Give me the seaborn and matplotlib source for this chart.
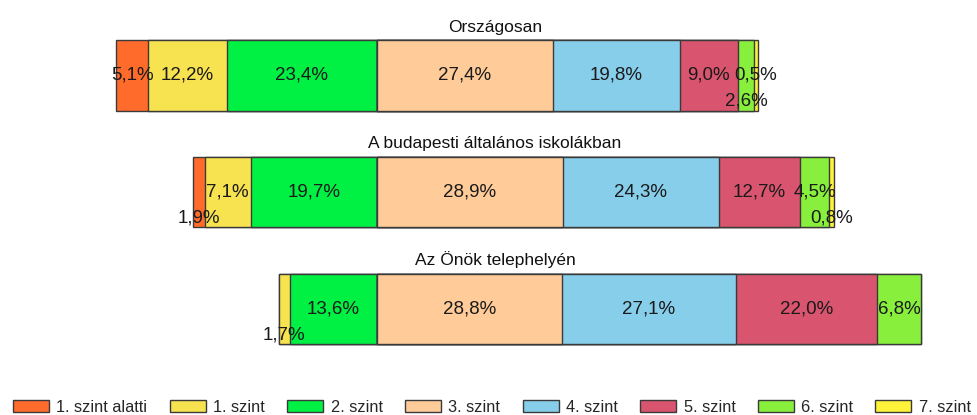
import matplotlib
matplotlib.use("Agg")
import matplotlib.pyplot as plt
import seaborn as sns
import pandas as pd

# data
regions = ["Országosan", "A budapesti általános iskolákban", "Az Önök telephelyén"]
levels = ["1. szint alatti", "1. szint", "2. szint", "3. szint",
          "4. szint", "5. szint", "6. szint", "7. szint"]
orszagosan = [5.1, 12.2, 23.4, 27.4, 19.8, 9.0, 2.6, 0.5]
budapest = [1.9, 7.1, 19.7, 28.9, 24.3, 12.7, 4.5, 0.8]
telephely = [0.0, 1.7, 13.6, 28.8, 27.1, 22.0, 6.8, 0.0]

level_colors = ["#FF6B2B", "#F7E250", "#00F044", "#FFCC99",
                "#87CEEB", "#D9546E", "#88F03C", "#FFF33A"]

# labels that sit low in the bar in the original so they don't collide
low_labels = {("Országosan", "6. szint"),
              ("A budapesti általános iskolákban", "1. szint alatti"),
              ("A budapesti általános iskolákban", "7. szint"),
              ("Az Önök telephelyén", "1. szint")}

# bars are aligned at the 2./3. szint boundary
rows = []
for region, vals in zip(regions, [orszagosan, budapest, telephely]):
    left = vals[:3]
    right = vals[3:]
    for i, lev in enumerate(levels[:3]):
        start = -sum(left[i + 1:])
        end = -sum(left[i:])
        rows.append((region, lev, vals[i], start, end))
    for j, lev in enumerate(levels[3:]):
        start = sum(right[:j])
        end = sum(right[:j + 1])
        rows.append((region, lev, vals[3 + j], start, end))
df = pd.DataFrame(rows, columns=["region", "level", "value", "start", "end"])

sns.set_style("white")
plt.rcParams["font.family"] = ["Liberation Sans", "DejaVu Sans"]

fig = plt.figure(figsize=(9.78, 4.15), dpi=100)
ax = fig.add_axes([60 / 978, 1 - 362 / 415, 870 / 978, 362 / 415])

# draw longest bar first on each side, shorter ones paint over it
draw_order = ["1. szint alatti", "1. szint", "2. szint",
              "7. szint", "6. szint", "5. szint", "4. szint", "3. szint"]
for lev in draw_order:
    sub = df[df["level"] == lev]
    sns.barplot(data=sub, x="end", y="region", order=regions, orient="h",
                color=level_colors[levels.index(lev)], saturation=1,
                width=0.6, edgecolor="#3a3a3a", linewidth=1.0,
                errorbar=None, label=lev, ax=ax)

bar_h = 0.6
for _, r in df.iterrows():
    if r["value"] <= 0:
        continue
    yi = regions.index(r["region"])
    xc = (r["start"] + r["end"]) / 2
    y = yi + 0.22 if (r["region"], r["level"]) in low_labels else yi
    txt = f"{r['value']:.1f}".replace(".", ",") + "%"
    ax.text(xc, y, txt, ha="center", va="center", fontsize=13.5, color="#1a1a1a")

for yi, region in enumerate(regions):
    ax.text(0.5, yi - bar_h / 2 - 0.05, region, transform=ax.get_yaxis_transform(),
            ha="center", va="bottom", fontsize=12.5, color="#111111")

ax.set_xlim((60 - 377) / 6.42, (930 - 377) / 6.42)
ax.set_ylim(2.45, -0.645)
ax.set_xlabel("")
ax.set_ylabel("")
ax.set_xticks([])
ax.set_yticks([])
sns.despine(ax=ax, left=True, bottom=True)

handles, labels = ax.get_legend_handles_labels()
by_label = dict(zip(labels, handles))
leg_handles = [by_label[lev] for lev in levels]
if ax.get_legend():
    ax.get_legend().remove()
fig.legend(leg_handles, levels, loc="center", bbox_to_anchor=(0.503, 1 - 407 / 415),
           ncol=8, frameon=False, fontsize=11.8, handlelength=2.2, handleheight=0.8,
           handletextpad=0.45, columnspacing=1.36, borderaxespad=0, borderpad=0)

fig.savefig("out.png", dpi=100)
